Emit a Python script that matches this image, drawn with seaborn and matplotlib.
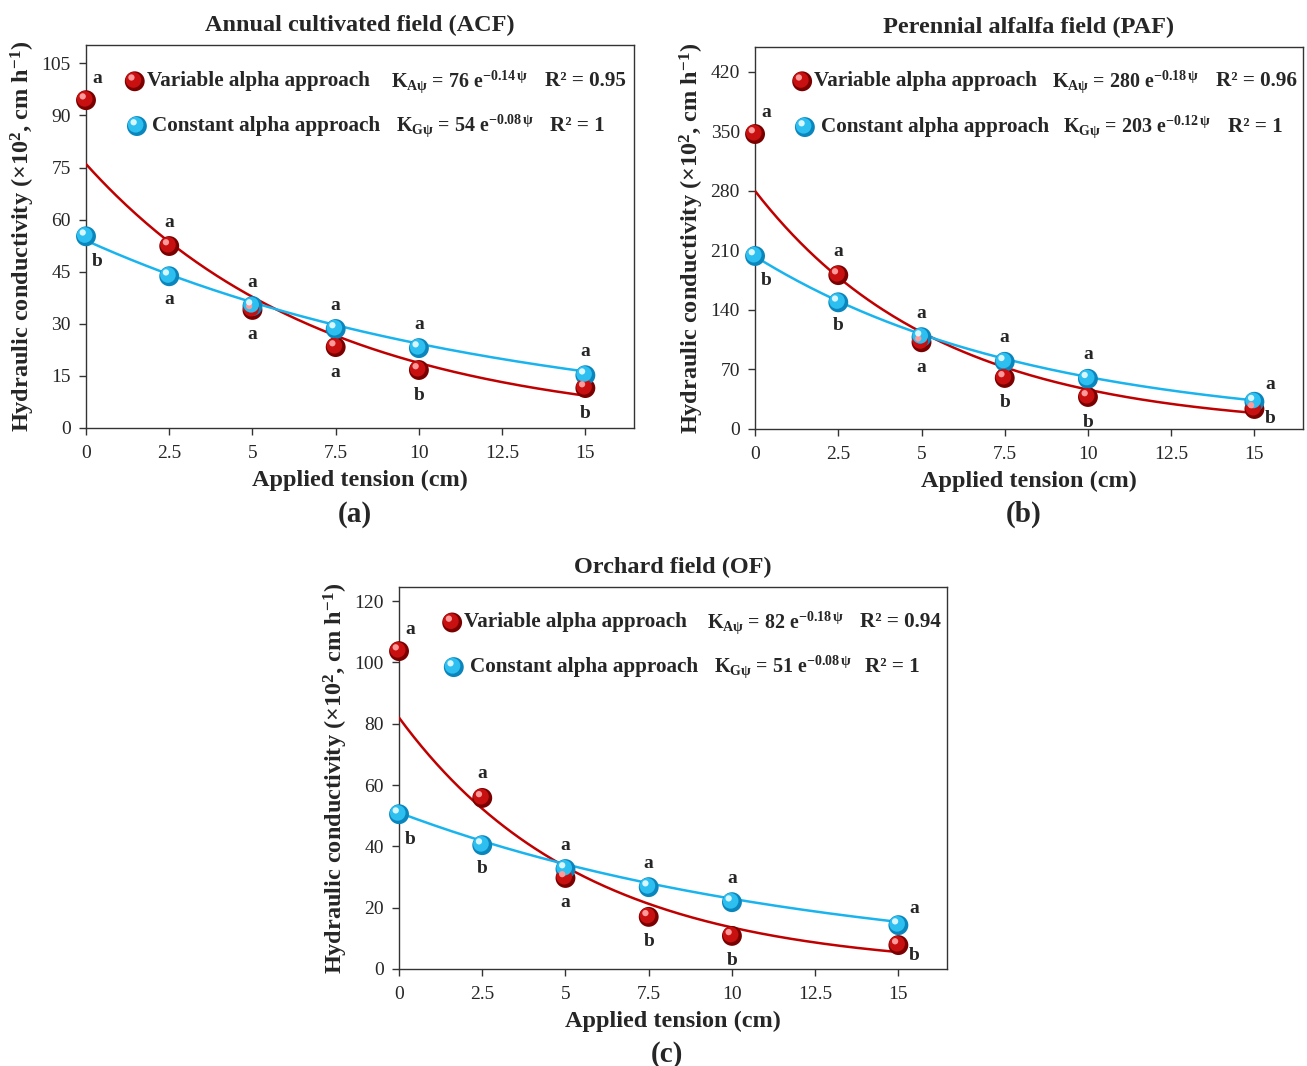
import numpy as np
import matplotlib
matplotlib.use("Agg")
import matplotlib.pyplot as plt
import matplotlib.transforms as mtransforms
import seaborn as sns

sns.set_style("ticks")
plt.rcParams['font.family'] = ['Liberation Serif', 'DejaVu Serif']
plt.rcParams['mathtext.fontset'] = 'custom'
plt.rcParams['mathtext.rm'] = 'Liberation Serif'
plt.rcParams['mathtext.bf'] = 'Liberation Serif:bold'
plt.rcParams['mathtext.it'] = 'Liberation Serif:italic'

# applied tension (cm)
tension = [0, 2.5, 5, 7.5, 10, 15]
xticks = [0, 2.5, 5, 7.5, 10, 12.5, 15]
xticklabels = ['0', '2.5', '5', '7.5', '10', '12.5', '15']

# ACF
acf_variable = [94.4, 52.4, 34.0, 23.3, 16.7, 11.5]
acf_constant = [55.2, 43.7, 35.1, 28.5, 23.0, 15.2]
acf_var_letters = ['a', 'a', 'a', 'a', 'b', 'b']
acf_con_letters = ['b', 'a', 'a', 'a', 'a', 'a']
acf_var_fit = (76, -0.14)
acf_con_fit = (54, -0.08)

# PAF
paf_variable = [347, 181, 102, 60, 37.6, 23.5]
paf_constant = [203.5, 149, 108, 79, 59, 32]
paf_var_letters = ['a', 'a', 'a', 'b', 'b', 'b']
paf_con_letters = ['b', 'b', 'a', 'a', 'a', 'a']
paf_var_fit = (280, -0.18)
paf_con_fit = (203, -0.12)

# OF
of_variable = [103.7, 55.8, 29.7, 17.0, 10.8, 7.8]
of_constant = [50.5, 40.4, 32.6, 26.7, 21.8, 14.3]
of_var_letters = ['a', 'a', 'a', 'b', 'b', 'b']
of_con_letters = ['b', 'b', 'a', 'a', 'a', 'a']
of_var_fit = (82, -0.18)
of_con_fit = (51, -0.08)

RED = ['#7a0000', '#c81010', '#ff9a9a']
BLUE = ['#0a86bd', '#2cbff0', '#d8f6ff']
RED_LINE = '#c00000'
BLUE_LINE = '#19b4ee'

fig = plt.figure(figsize=(13.07, 10.66), dpi=100)


def balls(ax, x, y, shades, transform, size=205):
    ax.scatter(x, y, s=size, color=shades[0], edgecolor='none', transform=transform, zorder=5, clip_on=False)
    t1 = mtransforms.offset_copy(transform, fig=fig, x=-1.3, y=1.3, units='dots')
    ax.scatter(x, y, s=size * 0.62, color=shades[1], edgecolor='none', transform=t1, zorder=6, clip_on=False)
    t2 = mtransforms.offset_copy(transform, fig=fig, x=-3.3, y=3.8, units='dots')
    ax.scatter(x, y, s=size * 0.1, color=shades[2], edgecolor='none', transform=t2, zorder=7, clip_on=False)


def letter_offset(i, is_var, var, con, side_last):
    # pixel offsets of the significance letters
    if i == 0:
        return (11, 22) if is_var else (11, -25)
    if i == len(tension) - 1 and side_last:
        return (16, -10) if is_var else (16, 17)
    var_on_top = var[i] > con[i] and i < 2
    if is_var:
        return (0, 24) if var_on_top else (0, -25)
    return (0, -23) if var_on_top else (0, 24)


def panel(rect, title, tag, var, con, var_l, con_l, var_fit, con_fit, ylim, yticks,
          leg, side_last):
    ax = fig.add_axes(rect)
    xs = np.linspace(0, 15, 200)
    sns.lineplot(x=xs, y=var_fit[0] * np.exp(var_fit[1] * xs), color=RED_LINE, lw=1.8, ax=ax, zorder=3)
    sns.lineplot(x=xs, y=con_fit[0] * np.exp(con_fit[1] * xs), color=BLUE_LINE, lw=1.8, ax=ax, zorder=3)
    balls(ax, tension, var, RED, ax.transData)
    balls(ax, tension, con, BLUE, ax.transData)

    for i, x in enumerate(tension):
        for vals, letters, is_var in ((var, var_l, True), (con, con_l, False)):
            off = letter_offset(i, is_var, var, con, side_last)
            ax.annotate(letters[i], (x, vals[i]), xytext=off, textcoords='offset pixels',
                        ha='center', va='center', fontsize=14, fontweight='bold', zorder=8)

    ax.set_xlim(0, 16.45)
    ax.set_ylim(*ylim)
    ax.set_xticks(xticks)
    ax.set_xticklabels(xticklabels)
    ax.set_yticks(yticks)
    ax.tick_params(direction='out', length=5, width=1, labelsize=14, color='#333333')
    ax.tick_params(axis='x', pad=7)
    ax.tick_params(axis='y', pad=6)
    for s in ax.spines.values():
        s.set_visible(True)
        s.set_color('#333333')
        s.set_linewidth(1)
    ax.set_xlabel('Applied tension (cm)', fontsize=17.5, fontweight='bold', labelpad=6)
    ax.set_ylabel('Hydraulic conductivity (×10$^{\\mathbf{2}}$, cm h$^{\\mathbf{-1}}$)',
                  fontsize=17.5, fontweight='bold', labelpad=3)
    ax.set_title(title, fontsize=17.5, fontweight='bold', pad=10)
    ax.text(0.49, -0.225, tag, transform=ax.transAxes, ha='center', va='center',
            fontsize=21, fontweight='bold')

    # legend block
    (vb, vt, ve, vr, vy), (cb, ct, ce, cr, cy), eqs = leg
    balls(ax, [vb], [vy], RED, ax.transAxes)
    balls(ax, [cb], [cy], BLUE, ax.transAxes)
    kw = dict(transform=ax.transAxes, va='center', ha='left', fontsize=15.2, fontweight='bold')
    eq_kw = dict(kw, fontsize=14.4)
    ax.text(vt, vy, 'Variable alpha approach', **kw)
    ax.text(ve, vy, eqs[0], **eq_kw)
    ax.text(vr, vy, eqs[1], **kw)
    ax.text(ct, cy, 'Constant alpha approach', **kw)
    ax.text(ce, cy, eqs[2], **eq_kw)
    ax.text(cr, cy, eqs[3], **kw)
    return ax


panel([0.0658, 0.5985, 0.419, 0.359], 'Annual cultivated field (ACF)', '(a)',
      acf_variable, acf_constant, acf_var_letters, acf_con_letters, acf_var_fit, acf_con_fit,
      (0, 110.2), [0, 15, 30, 45, 60, 75, 90, 105],
      ((0.089, 0.111, 0.557, 0.838, 0.906), (0.093, 0.120, 0.566, 0.847, 0.789),
       ['K$_{\\mathbf{Aψ}}$ = 76 e$^{\\mathbf{-0.14\\,ψ}}$', 'R² = 0.95',
        'K$_{\\mathbf{Gψ}}$ = 54 e$^{\\mathbf{-0.08\\,ψ}}$', 'R² = 1']),
      False)

panel([0.5777, 0.5976, 0.419, 0.358], 'Perennial alfalfa field (PAF)', '(b)',
      paf_variable, paf_constant, paf_var_letters, paf_con_letters, paf_var_fit, paf_con_fit,
      (0, 449), [0, 70, 140, 210, 280, 350, 420],
      ((0.086, 0.108, 0.542, 0.841, 0.911), (0.091, 0.120, 0.562, 0.863, 0.791),
       ['K$_{\\mathbf{Aψ}}$ = 280 e$^{\\mathbf{-0.18\\,ψ}}$', 'R² = 0.96',
        'K$_{\\mathbf{Gψ}}$ = 203 e$^{\\mathbf{-0.12\\,ψ}}$', 'R² = 1']),
      True)

panel([0.3053, 0.091, 0.419, 0.358], 'Orchard field (OF)', '(c)',
      of_variable, of_constant, of_var_letters, of_con_letters, of_var_fit, of_con_fit,
      (0, 124.5), [0, 20, 40, 60, 80, 100, 120],
      ((0.097, 0.119, 0.562, 0.841, 0.908), (0.100, 0.130, 0.575, 0.850, 0.791),
       ['K$_{\\mathbf{Aψ}}$ = 82 e$^{\\mathbf{-0.18\\,ψ}}$', 'R² = 0.94',
        'K$_{\\mathbf{Gψ}}$ = 51 e$^{\\mathbf{-0.08\\,ψ}}$', 'R² = 1']),
      True)

fig.savefig('out.png', dpi=100, facecolor='white')
